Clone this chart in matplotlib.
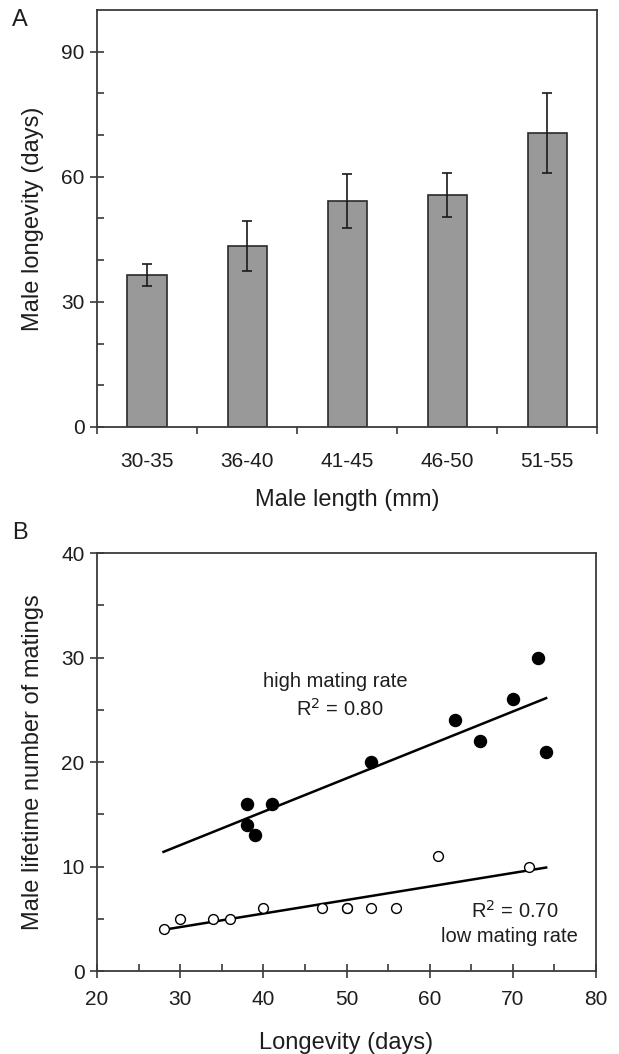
import numpy as np
import matplotlib
matplotlib.use("Agg")
import matplotlib.pyplot as plt

plt.rcParams['font.family'] = ['Liberation Sans', 'DejaVu Sans']

# Panel A data: mean male longevity by body length class
length_classes = ["30-35", "36-40", "41-45", "46-50", "51-55"]
longevity_mean = [36.5, 43.4, 54.2, 55.7, 70.5]
longevity_err = [2.7, 6.0, 6.4, 5.3, 9.6]

# Panel B data: lifetime matings vs longevity
high_days = [38, 38, 39, 41, 53, 63, 66, 70, 73, 74]
high_matings = [16, 14, 13, 16, 20, 24, 22, 26, 30, 21]
low_days = [28, 30, 34, 36, 40, 47, 50, 50, 53, 56, 61, 72]
low_matings = [4, 5, 5, 5, 6, 6, 6, 6, 6, 6, 11, 10]

axis_col = "#3a3a3a"
text_col = "#1e1e1e"
tick_fs = 15
label_fs = 17
note_fs = 14.5

fig = plt.figure(figsize=(6.19, 10.54), dpi=100)
axA = fig.add_axes([0.1567, 0.5949, 0.8078, 0.3956])
axB = fig.add_axes([0.1567, 0.0787, 0.8062, 0.3966])

# ---- Panel A ----
xpos = np.arange(len(length_classes))
axA.bar(xpos, longevity_mean, width=0.39, color="#999999",
        edgecolor="#2a2a2a", linewidth=1.2, zorder=2)
axA.errorbar(xpos, longevity_mean, yerr=longevity_err, fmt="none",
             ecolor="#1a1a1a", elinewidth=1.2, capsize=3.5, capthick=1.2, zorder=3)
axA.set_xlim(-0.5, 4.5)
axA.set_ylim(0, 100)
axA.set_xticks(xpos)
axA.set_xticklabels(length_classes)
axA.set_xticks(np.arange(-0.5, 5.0, 1.0), minor=True)
axA.tick_params(axis="x", which="major", length=0, pad=18, labelsize=tick_fs,
                labelcolor=text_col)
axA.tick_params(axis="x", which="minor", direction="out", length=5,
                width=1.2, color=axis_col)
axA.set_yticks([0, 30, 60, 90])
axA.set_yticks(np.arange(0, 100, 10), minor=True)
axA.tick_params(axis="y", which="major", direction="inout", length=10,
                width=1.2, color=axis_col, labelsize=tick_fs, pad=4,
                labelcolor=text_col)
axA.tick_params(axis="y", which="minor", direction="in", length=5,
                width=1.2, color=axis_col)
axA.set_xlabel("Male length (mm)", fontsize=label_fs, labelpad=13, color=text_col)
axA.set_ylabel("Male longevity (days)", fontsize=label_fs, labelpad=12, color=text_col)

# ---- Panel B ----
axB.scatter(high_days, high_matings, s=75, color="black", zorder=3)
axB.scatter(low_days, low_matings, s=50, facecolor="white",
            edgecolor="black", linewidth=1.0, zorder=3)

x_fit = np.array([28, 74])
for xs, ys in [(high_days, high_matings), (low_days, low_matings)]:
    k, b = np.polyfit(xs, ys, 1)
    axB.plot(x_fit, k * x_fit + b, color="black", linewidth=1.8, zorder=2)

axB.text(48.7, 27.7, "high mating rate", ha="center", va="center",
         fontsize=note_fs, color=text_col)
axB.text(49.2, 25.1, "R$^2$ = 0.80", ha="center", va="center",
         fontsize=note_fs, color=text_col)
axB.text(70.2, 5.8, "R$^2$ = 0.70", ha="center", va="center",
         fontsize=note_fs, color=text_col)
axB.text(69.6, 3.3, "low mating rate", ha="center", va="center",
         fontsize=note_fs, color=text_col)

axB.set_xlim(20, 80)
axB.set_ylim(0, 40)
axB.set_xticks(np.arange(20, 81, 10))
axB.set_xticks(np.arange(25, 80, 10), minor=True)
axB.set_yticks(np.arange(0, 41, 10))
axB.set_yticks(np.arange(5, 40, 10), minor=True)
axB.tick_params(which="major", direction="inout", length=10, width=1.2,
                color=axis_col, labelsize=tick_fs, pad=4, labelcolor=text_col)
axB.tick_params(which="minor", direction="in", length=5, width=1.2, color=axis_col)
axB.tick_params(axis="x", which="major", pad=9)
axB.set_xlabel("Longevity (days)", fontsize=label_fs, labelpad=16, color=text_col)
axB.set_ylabel("Male lifetime number of matings", fontsize=label_fs, labelpad=12,
               color=text_col)

for ax in (axA, axB):
    for sp in ax.spines.values():
        sp.set_color(axis_col)
        sp.set_linewidth(1.3)

fig.text(20 / 619, 1 - 20 / 1054, "A", fontsize=17, ha="center", va="center",
         color=text_col)
fig.text(20 / 619, 1 - 533 / 1054, "B", fontsize=17, ha="center", va="center",
         color=text_col)

fig.savefig("out.png", dpi=100)
